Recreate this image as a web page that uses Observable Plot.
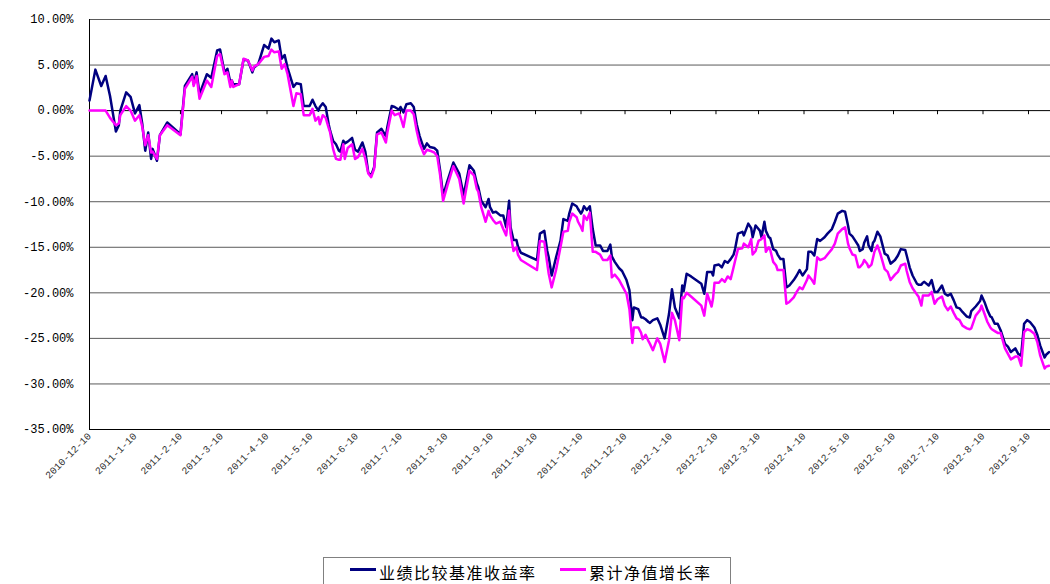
<!DOCTYPE html>
<html>
<head>
<meta charset="utf-8">
<script src="https://cdn.jsdelivr.net/npm/d3@7"></script>
<script src="https://cdn.jsdelivr.net/npm/@observablehq/plot@0.6"></script>
<style>
  html, body { margin: 0; padding: 0; background: #fff; width: 1050px; height: 584px; overflow: hidden; }
  #chart { position: absolute; left: 0; top: 0; }
  #legend { position: absolute; left: 323px; top: 557px; width: 408px; height: 34px; box-sizing: border-box;
            border: 1px solid #808080; background: #fff; font-family: "Noto Sans CJK SC", sans-serif; font-size: 16px;
            letter-spacing: 1.5px; color: #000; }
  .item { position: absolute; top: 3px; height: 22px; line-height: 22px; white-space: nowrap; }
  .swatch { position: absolute; top: 10px; width: 26px; height: 3px; }
</style>
</head>
<body>
<div id="chart"></div>
<div id="legend"></div>
<script>
// ---- data (percent) ----
const seriesNames = ["业绩比较基准收益率", "累计净值增长率"];
const seriesColors = ["#000080", "#ff00ff"];
const tickLabels = ["2010-12-10","2011-1-10","2011-2-10","2011-3-10","2011-4-10","2011-5-10","2011-6-10",
  "2011-7-10","2011-8-10","2011-9-10","2011-10-10","2011-11-10","2011-12-10","2012-1-10","2012-2-10",
  "2012-3-10","2012-4-10","2012-5-10","2012-6-10","2012-7-10","2012-8-10","2012-9-10"];
const yTicks = [10, 5, 0, -5, -10, -15, -20, -25, -30, -35];
const dates = [
"2010-12-10","2010-12-14","2010-12-18","2010-12-21","2010-12-24","2010-12-28","2010-12-30","2010-12-31",
"2011-01-04","2011-01-07","2011-01-10","2011-01-13","2011-01-15","2011-01-17","2011-01-19","2011-01-21",
"2011-01-22","2011-01-25","2011-01-27","2011-02-01","2011-02-10","2011-02-13","2011-02-18","2011-02-19",
"2011-02-21","2011-02-23","2011-02-28","2011-03-03","2011-03-07","2011-03-09","2011-03-12","2011-03-14",
"2011-03-16","2011-03-17","2011-03-18","2011-03-22","2011-03-25","2011-03-28","2011-03-31","2011-04-01",
"2011-04-04","2011-04-08","2011-04-11","2011-04-13","2011-04-15","2011-04-18","2011-04-20","2011-04-22",
"2011-04-24","2011-04-28","2011-04-30","2011-05-03","2011-05-05","2011-05-09","2011-05-11","2011-05-13",
"2011-05-15","2011-05-16","2011-05-18","2011-05-20","2011-05-22","2011-05-23","2011-05-25","2011-05-27",
"2011-05-29","2011-05-30","2011-06-01","2011-06-02","2011-06-04","2011-06-07","2011-06-09","2011-06-11",
"2011-06-14","2011-06-16","2011-06-18","2011-06-20","2011-06-22","2011-06-24","2011-06-27","2011-06-30",
"2011-07-01","2011-07-04","2011-07-06","2011-07-09","2011-07-10","2011-07-12","2011-07-14","2011-07-17",
"2011-07-19","2011-07-21","2011-07-23","2011-07-26","2011-07-28","2011-07-30","2011-08-02","2011-08-04",
"2011-08-06","2011-08-08","2011-08-11","2011-08-15","2011-08-19","2011-08-22","2011-08-26","2011-08-29",
"2011-08-31","2011-09-01","2011-09-03","2011-09-06","2011-09-08","2011-09-09","2011-09-11","2011-09-13",
"2011-09-16","2011-09-18","2011-09-20","2011-09-22","2011-09-23","2011-09-25","2011-09-27","2011-09-28",
"2011-09-30","2011-10-11","2011-10-13","2011-10-16","2011-10-18","2011-10-19","2011-10-21","2011-10-24",
"2011-10-27","2011-10-29","2011-11-01","2011-11-02","2011-11-04","2011-11-07","2011-11-08","2011-11-10",
"2011-11-11","2011-11-12","2011-11-14","2011-11-16","2011-11-18","2011-11-20","2011-11-23","2011-11-25",
"2011-11-28","2011-11-30","2011-12-01","2011-12-03","2011-12-06","2011-12-08","2011-12-11","2011-12-13",
"2011-12-15","2011-12-16","2011-12-19","2011-12-21","2011-12-22","2011-12-24","2011-12-26","2011-12-27",
"2011-12-29","2012-01-01","2012-01-03","2012-01-06","2012-01-09","2012-01-11","2012-01-13","2012-01-16",
"2012-01-18","2012-01-19","2012-01-21","2012-01-24","2012-01-31","2012-02-02","2012-02-04","2012-02-07",
"2012-02-08","2012-02-09","2012-02-12","2012-02-14","2012-02-16","2012-02-18","2012-02-20","2012-02-22",
"2012-02-23","2012-02-25","2012-02-28","2012-02-29","2012-03-03","2012-03-05","2012-03-06","2012-03-08",
"2012-03-10","2012-03-11","2012-03-12","2012-03-14","2012-03-15","2012-03-17","2012-03-18","2012-03-20",
"2012-03-22","2012-03-23","2012-03-25","2012-03-27","2012-03-29","2012-03-31","2012-04-03","2012-04-05",
"2012-04-07","2012-04-09","2012-04-12","2012-04-13","2012-04-15","2012-04-17","2012-04-19","2012-04-21",
"2012-04-24","2012-04-26","2012-04-29","2012-05-01","2012-05-03","2012-05-06","2012-05-08","2012-05-10",
"2012-05-11","2012-05-13","2012-05-15","2012-05-17","2012-05-18","2012-05-20","2012-05-21","2012-05-23",
"2012-05-24","2012-05-26","2012-05-27","2012-05-28","2012-05-30","2012-06-01","2012-06-04","2012-06-06",
"2012-06-08","2012-06-11","2012-06-13","2012-06-15","2012-06-18","2012-06-19","2012-06-21","2012-06-23",
"2012-06-26","2012-06-27","2012-06-29","2012-06-30","2012-07-01","2012-07-04","2012-07-06","2012-07-08",
"2012-07-10","2012-07-13","2012-07-15","2012-07-17","2012-07-19","2012-07-21","2012-07-23","2012-07-25",
"2012-07-27","2012-07-30","2012-08-01","2012-08-02","2012-08-05","2012-08-08","2012-08-09","2012-08-11",
"2012-08-13","2012-08-15","2012-08-16","2012-08-18","2012-08-20","2012-08-22","2012-08-25","2012-08-27",
"2012-08-29","2012-09-01","2012-09-03","2012-09-05","2012-09-07","2012-09-09","2012-09-11","2012-09-14",
"2012-09-16","2012-09-18","2012-09-21","2012-09-22","2012-09-24"];
const benchmark = [
1.1,4.5,2.7,3.8,1.6,-2.3,-1.6,0.0,
2.0,1.5,-0.3,0.6,-1.5,-4.4,-2.4,-5.3,
-4.2,-5.5,-2.7,-1.3,-2.6,2.7,4.0,2.9,
4.2,1.8,4.0,3.6,6.6,6.7,4.2,4.6,
3.1,3.3,2.9,2.9,5.6,5.5,4.2,4.7,
5.1,7.2,6.8,7.9,7.5,7.7,5.7,6.1,
4.7,2.6,3.0,2.9,0.5,0.5,1.2,0.5,
0.0,0.4,0.8,0.4,-1.5,-2.2,-3.3,-3.7,
-4.4,-4.5,-3.3,-3.6,-3.4,-3.0,-4.3,-4.5,
-3.5,-4.5,-6.8,-7.1,-6.2,-2.4,-2.0,-2.8,
-1.8,0.5,0.4,0.1,0.4,-0.2,0.7,0.8,
0.4,-1.5,-2.8,-4.2,-3.6,-4.0,-4.1,-4.4,
-6.6,-9.3,-7.7,-5.7,-6.9,-9.3,-6.0,-6.6,
-8.0,-8.4,-9.9,-10.6,-9.7,-10.6,-11.2,-11.1,
-11.5,-11.5,-12.8,-9.9,-12.8,-14.2,-14.2,-14.9,
-15.6,-16.4,-13.5,-13.2,-15.4,-16.1,-18.1,-16.1,
-14.3,-11.9,-12.1,-11.3,-10.2,-10.5,-10.8,-11.3,
-11.0,-10.5,-10.9,-10.5,-13.0,-14.8,-14.8,-15.4,
-15.4,-14.7,-16.0,-16.6,-17.3,-17.6,-18.6,-19.7,
-23.0,-21.6,-21.8,-22.7,-22.7,-22.9,-23.2,-23.3,
-23.0,-22.8,-23.5,-25.0,-22.3,-19.6,-21.6,-22.8,
-19.2,-19.8,-17.9,-18.2,-19.0,-20.1,-17.7,-17.7,
-18.1,-17.0,-16.9,-17.2,-16.5,-16.7,-16.3,-15.8,
-15.2,-13.5,-13.3,-13.7,-12.4,-12.9,-13.9,-12.6,
-13.0,-13.2,-13.9,-12.2,-13.2,-13.9,-14.0,-15.2,
-15.4,-15.8,-16.3,-16.3,-19.4,-19.2,-18.6,-18.1,
-17.5,-18.1,-17.4,-15.5,-15.5,-15.9,-14.1,-14.3,
-13.9,-13.5,-13.0,-12.2,-11.3,-11.0,-11.1,-12.6,
-13.5,-13.8,-14.3,-14.8,-15.4,-15.2,-14.5,-13.8,
-14.8,-15.4,-14.5,-14.3,-13.3,-13.8,-15.7,-15.9,
-16.8,-16.4,-15.9,-15.2,-15.3,-15.9,-17.2,-18.1,
-19.0,-19.1,-19.1,-18.9,-18.8,-19.2,-18.6,-19.9,
-19.9,-19.2,-20.1,-20.3,-20.1,-20.8,-21.6,-21.7,
-22.1,-22.6,-22.7,-22.0,-21.5,-20.9,-20.3,-21.0,
-21.9,-22.6,-22.7,-23.4,-23.4,-24.1,-25.6,-25.9,
-26.5,-26.1,-26.7,-26.9,-23.4,-23.0,-23.2,-23.8,
-24.6,-25.8,-27.1,-26.8,-26.5];
const nav = [
0.0,0.0,0.0,0.0,-0.8,-1.6,-1.4,-0.5,
0.5,0.0,-1.1,-0.5,-1.8,-3.8,-2.7,-4.6,
-4.5,-5.3,-2.7,-1.6,-2.7,2.4,3.7,2.7,
3.8,1.3,3.3,2.6,6.0,6.2,4.0,4.2,
2.6,3.3,2.6,2.9,5.7,5.5,4.4,4.8,
5.1,5.9,6.0,6.7,6.4,6.5,4.6,5.1,
4.0,0.5,1.9,1.8,-0.5,-0.5,0.2,-1.1,
-0.7,-1.5,-0.5,-0.8,-1.9,-2.4,-4.2,-5.3,
-5.4,-5.4,-3.7,-5.3,-4.1,-3.7,-5.3,-5.1,
-4.2,-5.3,-6.9,-7.3,-6.4,-2.6,-2.4,-3.5,
-2.4,0.0,-0.5,-0.3,-0.7,-1.8,0.0,0.0,
-0.4,-2.2,-3.6,-4.8,-4.3,-4.4,-4.6,-5.0,
-7.1,-9.9,-8.2,-6.1,-7.5,-10.2,-6.6,-7.1,
-8.6,-8.9,-10.6,-12.2,-11.0,-11.5,-12.0,-12.4,
-12.2,-13.0,-13.7,-11.0,-13.5,-15.4,-15.0,-15.8,
-16.4,-17.5,-14.3,-14.4,-16.8,-17.9,-19.4,-17.5,
-15.0,-13.3,-13.2,-12.2,-11.3,-11.7,-12.2,-12.8,
-13.2,-11.5,-12.0,-11.2,-15.5,-15.5,-15.8,-16.4,
-16.4,-15.9,-18.3,-18.0,-18.6,-19.2,-20.1,-21.8,
-25.5,-23.8,-23.8,-24.4,-25.1,-24.6,-25.3,-25.6,
-26.3,-25.0,-25.6,-27.6,-25.2,-22.2,-23.0,-25.2,
-20.5,-20.6,-20.0,-20.4,-21.4,-22.5,-20.1,-21.5,
-20.6,-18.9,-18.9,-18.5,-18.8,-18.2,-18.5,-17.2,
-16.5,-15.2,-15.1,-14.6,-15.0,-14.1,-15.8,-15.4,
-14.3,-14.2,-14.1,-13.7,-15.5,-15.0,-15.3,-16.6,
-17.0,-17.5,-17.5,-17.5,-21.2,-21.0,-20.5,-19.9,
-19.4,-19.6,-18.6,-18.1,-18.5,-19.0,-16.1,-16.4,
-16.2,-15.8,-15.2,-14.6,-13.5,-13.0,-12.8,-14.6,
-15.1,-15.8,-15.9,-17.2,-17.2,-16.8,-16.4,-16.8,
-17.2,-16.9,-16.2,-15.5,-14.8,-15.7,-17.4,-17.7,
-18.6,-18.0,-17.7,-17.0,-16.8,-17.6,-18.8,-19.5,
-20.2,-20.4,-21.4,-20.3,-20.3,-20.3,-19.9,-21.2,
-20.7,-20.4,-21.4,-21.9,-21.5,-22.2,-22.8,-23.0,
-23.6,-23.9,-24.0,-23.9,-22.5,-21.9,-21.4,-22.3,
-23.2,-23.8,-24.0,-24.2,-24.4,-24.4,-26.1,-26.7,
-27.3,-27.0,-27.0,-28.0,-24.3,-24.0,-24.1,-24.5,
-25.4,-26.9,-28.3,-28.1,-28.0];
const xStart = "2010-12-10";
const xEnd = "2012-09-25";

// ---- build ----
const parseLabel = s => { const [y, m, d] = s.split("-").map(Number); return new Date(Date.UTC(y, m - 1, d)); };
const tickDates = tickLabels.map(parseLabel);
const rows = dates.map((d, i) => ({date: new Date(d), bench: benchmark[i], nav: nav[i]}));
const x0 = new Date(xStart);

const chart = Plot.plot({
  width: 1050,
  height: 557,
  marginTop: 19,
  marginBottom: 128,
  marginLeft: 89,
  marginRight: 0,
  style: {background: "#fff", fontFamily: "'Liberation Mono', 'DejaVu Sans Mono', monospace", overflow: "visible"},
  x: {type: "utc", domain: [x0, new Date(xEnd)], label: null},
  y: {domain: [-35, 10], label: null},
  marks: [
    Plot.ruleY(yTicks.filter(v => v !== 0 && v !== -35), {stroke: "#5a5a5a", strokeWidth: 1}),
    Plot.ruleY([0], {stroke: "#000", strokeWidth: 1}),
    Plot.ruleY([-35], {stroke: "#000", strokeWidth: 1}),
    Plot.ruleX([x0], {stroke: "#000", strokeWidth: 1}),
    Plot.ruleX(tickDates, {x: d => d, y1: 0, y2: -0.45, stroke: "#000", strokeWidth: 1}),
    Plot.axisY({ticks: yTicks, tickFormat: v => v.toFixed(2) + "%", tickSize: 0, tickPadding: 16,
      fontSize: 12, fill: "#000", label: null}),
    Plot.axisX({ticks: tickDates, tickFormat: d3.utcFormat("%Y-%-m-%-d"), tickRotate: -45,
      tickSize: 0, tickPadding: 5, fontSize: 10, fill: "#333", label: null}),
    Plot.line(rows, {x: "date", y: "bench", stroke: seriesColors[0], strokeWidth: 2.5, curve: "linear"}),
    Plot.line(rows, {x: "date", y: "nav", stroke: seriesColors[1], strokeWidth: 2.5, curve: "linear"})
  ]
});
document.getElementById("chart").appendChild(chart);

// ---- legend ----
const legend = document.getElementById("legend");
const itemLefts = [26, 236];
seriesNames.forEach((name, i) => {
  const sw = document.createElement("div");
  sw.className = "swatch";
  sw.style.left = itemLefts[i] + "px";
  sw.style.background = seriesColors[i];
  legend.appendChild(sw);
  const t = document.createElement("div");
  t.className = "item";
  t.style.left = (itemLefts[i] + 29) + "px";
  t.textContent = name;
  legend.appendChild(t);
});
</script>
</body>
</html>
